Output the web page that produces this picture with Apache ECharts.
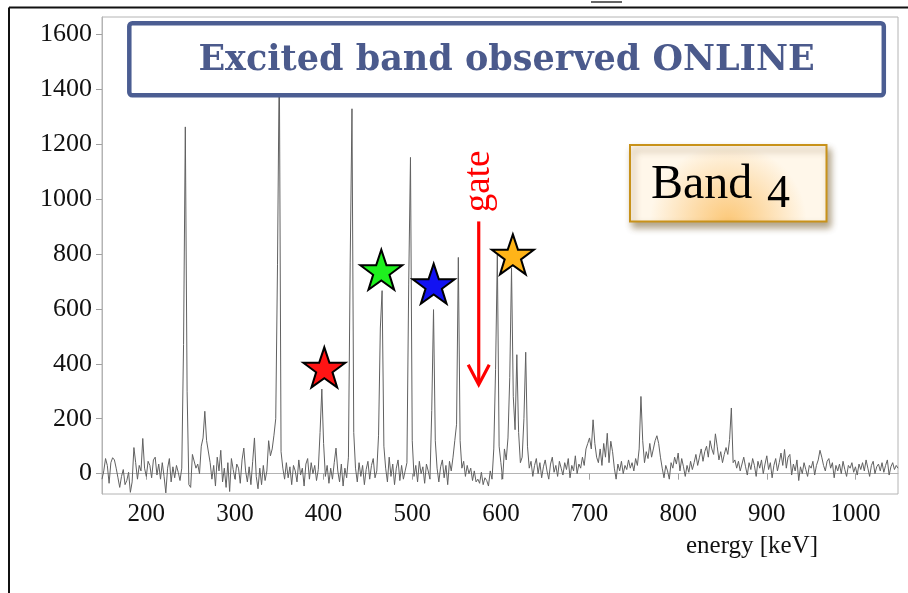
<!DOCTYPE html>
<html>
<head>
<meta charset="utf-8">
<script src="https://cdn.jsdelivr.net/npm/echarts@6/dist/echarts.min.js"></script>
<style>
  html, body { margin: 0; padding: 0; background: #fff; }
  #chart { width: 908px; height: 593px; }
</style>
</head>
<body>
<div id="chart"></div>
<script>
// Gamma-ray spectrum: counts per 2 keV bin starting at 150 keV
const binStart = 150;
const binWidth = 2;
const counts = [
  -20, 10, 55, 30, -35, 40, 58, 50, 20, -15,        // 150
  -50, -10, 15, -40, -25, 5, -68, -30, 95, 40,      // 170
  -20, 30, 10, 128, 20, -10, 45, 30, -15, 50,       // 190
  60, -5, 35, -20, 40, -10, -70, 20, 55, -30,       // 210
  25, -15, 30, 5, -25, 20, 470, 1262, 300, -40,     // 230
  -50, 70, 75, 20, 35, 0, 100, 130, 227, 120,       // 250
  125, 40, -20, 30, -45, 60, 10, 85, -30, 20,       // 270
  -50, 40, -65, 55, 15, -20, 35, 20, -35, 50,       // 290
  93, 10, -30, 25, -40, 45, 130, -10, -55, 20,      // 310
  -40, 30, -25, 10, 120, 65, 90, 140, 200, 760,     // 330
  1520, 80, 20, -20, 40, -15, 25, -40, 30, 10,      // 350
  -30, 50, -5, 20, -45, 35, 55, -20, 40, 0,         // 370
  30, -25, 15, 150, 308, 110, -10, 30, -35, 20,     // 390
  -20, 40, 93, 10, -30, 35, -45, 20, -15, 60,       // 410
  770, 1328, 150, 20, -30, 40, -10, 30, -40, 15,    // 430
  45, -20, 30, 55, -15, 10, 140, 530, 666, 100,     // 450
  20, -30, 60, -10, 35, -40, 20, 50, -25, 30,       // 470
  -20, 10, 40, 690, 1151, 120, -10, 30, -30, 45,    // 490
  0, 25, -35, 35, 10, -20, 230, 597, 120, 20,       // 510
  -30, 25, 50, -15, 30, -40, 45, 10, 60, 120,       // 530
  180, 787, 120, 20, 45, -10, 30, 0, 20, -25,       // 550
  10, -30, -20, -35, 5, -40, -15, -25, -45, 10,     // 570
  -20, 90, 380, 797, 100, 40, -20, 90, 50, 130,     // 590
  350, 748, 280, 160, 433, 150, 40, 60, 200, 442,   // 610
  100, 20, 45, -10, 30, 55, 0, 40, -15, 25,         // 630
  50, 10, -20, 35, 60, 5, 30, -10, 45, 20,          // 650
  -5, 40, 15, 55, -15, 30, 10, 65, 0, 35,           // 670
  20, 60, 30, 90, 110, 130, 90, 196, 110, 60,       // 690
  40, 90, 30, 110, 60, 147, 40, 118, 80, 20,        // 710
  -20, 35, 10, 45, 0, 30, 15, 50, 20, 40,           // 730
  10, 55, 30, 90, 281, 120, 40, 80, 55, 110,        // 750
  60, 90, 120, 138, 110, 60, 20, -15, 30, 10,       // 770
  -20, 40, 20, 60, 35, 75, 10, 55, 25, -10,         // 790
  30, 5, 45, 15, 40, 70, 30, 60, 90, 45,            // 810
  80, 100, 60, 120, 90, 70, 145, 100, 50, 80,       // 830
  40, 70, 95, 70, 124, 239, 40, 50, 20, 45,         // 850
  10, 35, 60, 25, -5, 40, 15, 55, 30, -10,          // 870
  45, 20, 50, 0, 35, 65, 15, 40, -15, 30,           // 890
  55, 10, 40, 75, 30, 88, 20, 60, 70, -5,           // 910
  35, 10, 50, -25, 25, 0, 40, 15, -10, 30,          // 930
  20, 45, -5, 30, 50, 85, 60, 30, 10, 45,           // 950
  55, 20, 40, -15, 30, 10, 35, 0, 45, 15,           // 970
  -10, 30, 20, 40, 5, 25, -5, 35, 15, 40,           // 990
  10, 50, 20, -10, 30, 45, 0, 25, 35, 10,           // 1010
  40, 5, 30, 50, -5, 25, 40, 15, 30, 20             // 1030
];

// Axis tick labels
const xTicks = [200, 300, 400, 500, 600, 700, 800, 900, 1000];
const yTicks = [0, 200, 400, 600, 800, 1000, 1200, 1400, 1600];

// Band transitions marked with stars (energy keV, counts)
const starEnergy = [400.8, 465.1, 524.2, 613.5];
const starCounts = [387, 742, 691, 798];
const starColors = ['#ff1414', '#1ef01e', '#1212f2', '#ffb418'];

// Gating transition arrow (energy keV, from/to counts)
const gateEnergy = 575;
const gateTop = 918;
const gateTip = 324;

const serif = "'Liberation Serif', 'Times New Roman', serif";
const starPath = 'path://M50,0 L61.8,35.1 L98.1,35.1 L68.7,56.8 L79.4,91 L50,70 L20.6,91 L31.3,56.8 L1.9,35.1 L38.2,35.1 Z';

const chart = echarts.init(document.getElementById('chart'), null, { renderer: 'canvas' });

const spectrum = counts.map((c, i) => [binStart + i * binWidth, c]);
const stars = starEnergy.map((e, i) => ({
  value: [e, starCounts[i]],
  itemStyle: { color: starColors[i] }
}));
const plain = v => String(v);

chart.setOption({
  animation: false,
  backgroundColor: '#fff',
  grid: {
    left: 102, right: 10, top: 17, bottom: 99,
    show: true, borderColor: '#b4b4b4', borderWidth: 1
  },
  xAxis: {
    type: 'value', min: 150, max: 1048,
    axisLine: { show: true, lineStyle: { color: '#b4b4b4', width: 1 } },
    axisTick: { show: true, length: 6, customValues: xTicks, lineStyle: { color: '#a0a0a0' } },
    axisLabel: { customValues: xTicks, formatter: plain, fontFamily: serif, fontSize: 25, color: '#111', margin: 8 },
    splitLine: { show: false }
  },
  yAxis: {
    type: 'value', min: -74, max: 1662,
    axisLine: { show: true, lineStyle: { color: '#b4b4b4', width: 1 } },
    axisTick: { show: true, length: 6, customValues: yTicks, lineStyle: { color: '#a0a0a0' } },
    axisLabel: { customValues: yTicks, formatter: plain, fontFamily: serif, fontSize: 26, color: '#111', margin: 10 },
    splitLine: { show: false }
  },
  series: [
    {
      type: 'line',
      data: spectrum,
      showSymbol: false,
      clip: true,
      lineStyle: { color: '#616161', width: 1 },
      z: 2
    },
    {
      type: 'scatter',
      data: stars,
      symbol: starPath,
      symbolSize: [42, 40],
      itemStyle: { borderColor: '#000', borderWidth: 2, opacity: 1 },
      z: 5
    }
  ]
});

// Annotations: gate arrow is anchored in data coordinates
const pTop = chart.convertToPixel({ gridIndex: 0 }, [gateEnergy, gateTop]);
const pTip = chart.convertToPixel({ gridIndex: 0 }, [gateEnergy, gateTip]);

chart.setOption({
  graphic: [
    // outer frame edges
    { id: 'frameTop', type: 'line', z: 50, shape: { x1: 9, y1: 7.5, x2: 908, y2: 7.5 }, style: { stroke: '#111', lineWidth: 2 } },
    { id: 'frameLeft', type: 'line', z: 50, shape: { x1: 9, y1: 7.5, x2: 9, y2: 593 }, style: { stroke: '#111', lineWidth: 2 } },
    { id: 'topMark', type: 'line', z: 50, shape: { x1: 591, y1: 2, x2: 622, y2: 2 }, style: { stroke: '#333', lineWidth: 1.5 } },
    // title banner
    {
      id: 'titleBox', type: 'rect', z: 60,
      shape: { x: 129.3, y: 23.3, width: 754.5, height: 72, r: 3 },
      style: { fill: '#fff', stroke: '#4b5d92', lineWidth: 4.5 }
    },
    {
      id: 'titleText', type: 'text', z: 61, x: 506.5, y: 61,
      style: {
        text: 'Excited band observed ONLINE',
        font: "bold 35px 'DejaVu Serif', serif",
        fill: '#4b5a8c', align: 'center', verticalAlign: 'middle'
      }
    },
    // band label box
    {
      id: 'bandBox', type: 'rect', z: 60,
      shape: { x: 630, y: 145, width: 196.5, height: 76.5 },
      style: {
        fill: {
          type: 'radial', x: 0.5, y: 1, r: 1.0,
          colorStops: [
            { offset: 0, color: '#fcc878' },
            { offset: 0.45, color: '#fddcaa' },
            { offset: 1, color: '#fff7ea' }
          ]
        },
        stroke: '#c8921a', lineWidth: 2,
        shadowBlur: 7, shadowOffsetX: 3, shadowOffsetY: 5, shadowColor: 'rgba(90,60,0,0.45)'
      }
    },
    {
      id: 'bandWord', type: 'text', z: 61, x: 651, y: 185,
      style: { text: 'Band', font: '48px ' + serif, fill: '#000', align: 'left', verticalAlign: 'middle' }
    },
    {
      id: 'bandNum', type: 'text', z: 61, x: 767, y: 195,
      style: { text: '4', font: '46px ' + serif, fill: '#000', align: 'left', verticalAlign: 'middle' }
    },
    // gate arrow
    {
      id: 'gateShaft', type: 'line', z: 40,
      shape: { x1: pTop[0], y1: pTop[1], x2: pTip[0], y2: pTip[1] - 1 },
      style: { stroke: '#ff0000', lineWidth: 3.2 }
    },
    {
      id: 'gateHead', type: 'polyline', z: 40,
      shape: { points: [[pTip[0] - 10.5, pTip[1] - 20], [pTip[0], pTip[1]], [pTip[0] + 10.5, pTip[1] - 20]] },
      style: { stroke: '#ff0000', lineWidth: 3.2, fill: null, lineJoin: 'miter' }
    },
    {
      id: 'gateText', type: 'text', z: 40, x: pTop[0] + 1, y: pTop[1] - 40, rotation: Math.PI / 2,
      style: { text: 'gate', font: '37px ' + serif, fill: '#ff0000', align: 'center', verticalAlign: 'middle' }
    },
    // axis title
    {
      id: 'xName', type: 'text', z: 40, x: 752, y: 546,
      style: { text: 'energy [keV]', font: '25px ' + serif, fill: '#111', align: 'center', verticalAlign: 'middle' }
    }
  ]
});
</script>
</body>
</html>
